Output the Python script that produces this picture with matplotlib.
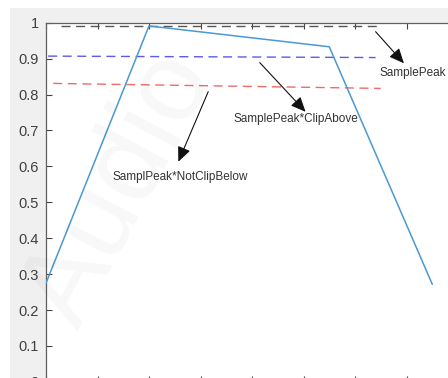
import matplotlib
matplotlib.use('Agg')
import matplotlib.pyplot as plt
from matplotlib.patches import Rectangle

plt.rcParams['font.family'] = ['Liberation Sans', 'DejaVu Sans']

# data
signal_x = [0, 2, 5.5, 7.5]
signal_y = [0.275, 0.991, 0.933, 0.272]

peak_x = [0.3, 6.5]
peak_y = [0.992, 0.992]
clip_above_x = [0.04, 6.4]
clip_above_y = [0.907, 0.903]
not_clip_below_x = [0.14, 6.5]
not_clip_below_y = [0.831, 0.817]

y_ticks = [0, 0.1, 0.2, 0.3, 0.4, 0.5, 0.6, 0.7, 0.8, 0.9, 1]
y_labels = ['0', '0.1', '0.2', '0.3', '0.4', '0.5', '0.6', '0.7', '0.8', '0.9', '1']
x_ticks = [0, 1, 2, 3, 4, 5, 6, 7, 8]

# (label, arrow tail, arrow head, text centre)
notes = [
    ('SamplePeak', (6.40, 0.975), (6.95, 0.887), (7.13, 0.861)),
    ('SamplePeak*ClipAbove', (4.15, 0.889), (5.04, 0.752), (4.85, 0.731)),
    ('SamplPeak*NotClipBelow', (3.15, 0.808), (2.57, 0.613), (2.60, 0.571)),
]

fig = plt.figure(figsize=(4.48, 3.78), dpi=100, facecolor='white')
fig.patches.append(Rectangle((10 / 448, 0), 1, 1 - 8 / 378, transform=fig.transFigure,
                             facecolor='#f0f0f0', edgecolor='none', zorder=-1))

ax = fig.add_axes([46 / 448, -3.9 / 378, 412 / 448, 359.2 / 378])
ax.set_facecolor('white')

ax.plot(signal_x, signal_y, color='#4a98d4', lw=1.1, zorder=3)
ax.plot(peak_x, peak_y, color='#555555', lw=1.0, linestyle=(0, (6.5, 4)))
ax.plot(clip_above_x, clip_above_y, color='#5a5af0', lw=1.0, linestyle=(0, (6.5, 4)))
ax.plot(not_clip_below_x, not_clip_below_y, color='#f06a6a', lw=1.0, linestyle=(0, (6.5, 4)))

for label, tail, head, pos in notes:
    ax.annotate('', xy=head, xytext=tail,
                arrowprops=dict(arrowstyle='-|>,head_length=0.9,head_width=0.4',
                                color='#111111', lw=0.8, shrinkA=0, shrinkB=0))
    ax.text(pos[0], pos[1], label, ha='center', va='center', fontsize=8.5, color='#333333')

ax.set_xlim(0, 8)
ax.set_ylim(0, 1)
ax.set_yticks(y_ticks)
ax.set_yticklabels(y_labels)
ax.set_xticks(x_ticks)
ax.tick_params(axis='y', direction='in', length=4, width=0.8, color='#444444',
               labelsize=10.5, labelcolor='#404040', pad=5)
ax.tick_params(axis='x', direction='in', length=4, width=0.8, color='#444444',
               top=True, labelbottom=False)
for s in ax.spines.values():
    s.set_color('#606060')
    s.set_linewidth(0.9)

# faint watermark
fig.text(0.27, 0.5, 'Audio', rotation=62, fontsize=82, color='black', alpha=0.03,
         ha='center', va='center', zorder=5)

fig.savefig('out.png', dpi=100)
